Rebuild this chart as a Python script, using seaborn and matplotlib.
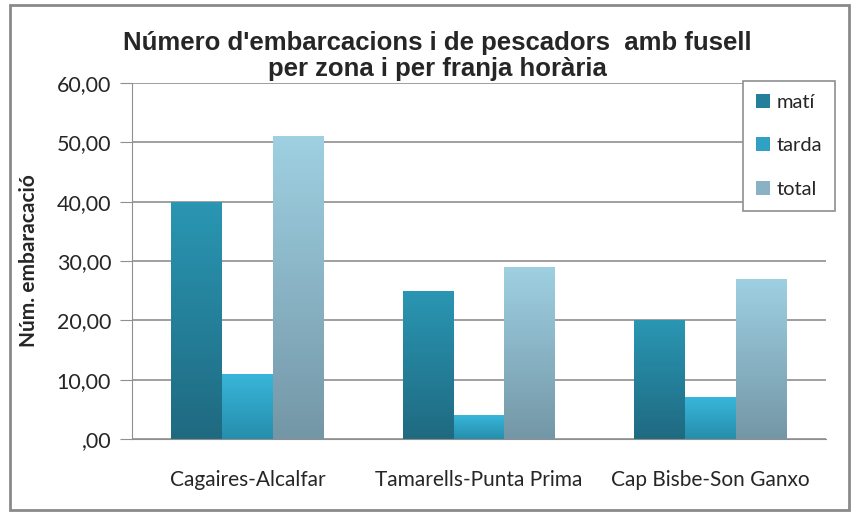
import numpy as np
import pandas as pd
import matplotlib
matplotlib.use('Agg')
import matplotlib.pyplot as plt
import matplotlib.colors as mcolors
from matplotlib.patches import Patch, Rectangle
from matplotlib.ticker import FuncFormatter
import seaborn as sns

zones = ['Cagaires-Alcalfar', 'Tamarells-Punta Prima', 'Cap Bisbe-Son Ganxo']
series = ['matí', 'tarda', 'total']
mati = [40, 25, 20]
tarda = [11, 4, 7]
total = [51, 29, 27]

title = "Número d'embarcacions i de pescadors  amb fusell\nper zona i per franja horària"
ylabel = 'Núm. embaracació'

# bottom / top colours of each bar gradient
grad = {
    'matí': ('#1f6a81', '#2a96b3'),
    'tarda': ('#268eac', '#38b6da'),
    'total': ('#7497a7', '#9ed0e2'),
}
palette = {k: mcolors.to_hex(0.5 * np.array(mcolors.to_rgb(a)) + 0.5 * np.array(mcolors.to_rgb(b)))
           for k, (a, b) in grad.items()}

df = pd.DataFrame({
    'zona': zones * 3,
    'franja': ['matí'] * 3 + ['tarda'] * 3 + ['total'] * 3,
    'valor': mati + tarda + total,
})

sns.set_style('white')
plt.rcParams['font.family'] = ['Lato', 'DejaVu Sans']

fig = plt.figure(figsize=(8.54, 5.12), dpi=100)
ax = fig.add_axes([132 / 854, 1 - 439 / 512, (826 - 132) / 854, (439 - 83) / 512])

sns.barplot(data=df, x='zona', y='valor', hue='franja', hue_order=series, order=zones,
            palette=palette, width=0.66, gap=0, legend=False, ax=ax, saturation=1)

# gradient fill clipped to each bar
bars = list(ax.patches)
for i, p in enumerate(bars):
    s = series[i // 3]
    c0 = np.array(mcolors.to_rgb(grad[s][0]))
    c1 = np.array(mcolors.to_rgb(grad[s][1]))
    t = np.linspace(0, 1, 64)[:, None, None]
    img = c0 + (c1 - c0) * t
    x0, y0 = p.get_x(), p.get_y()
    w, h = p.get_width(), p.get_height()
    im = ax.imshow(img, extent=[x0, x0 + w, y0, y0 + h], origin='lower', aspect='auto', zorder=2.5)
    im.set_clip_path(p)
    p.set_edgecolor('none')
ax.set_xlim(-0.5, 2.5)
ax.set_ylim(0, 60)
ax.set_aspect('auto')

def fmt(v, _):
    s = f'{v:.2f}'.replace('.', ',')
    return s.lstrip('0') if v == 0 else s

ax.set_yticks(np.arange(0, 61, 10))
ax.yaxis.set_major_formatter(FuncFormatter(fmt))
ax.grid(axis='y', color='#8f8f8f', linewidth=1.2)
ax.set_axisbelow(True)
for side in ['top', 'right']:
    ax.spines[side].set_visible(False)
ax.spines['left'].set_color('#8f8f8f')
ax.spines['bottom'].set_color('#8f8f8f')
ax.tick_params(axis='y', direction='out', length=9, color='#8f8f8f', labelsize=15.5, labelcolor='#262626', pad=6, left=True)
ax.tick_params(axis='x', length=0, labelsize=15, labelcolor='#262626', pad=22)
ax.set_xlabel('')
ax.set_ylabel(ylabel, fontsize=15, fontweight='bold', labelpad=13)

fig.text(437 / 854, 1 - 56 / 512, title, ha='center', va='center', fontsize=18.5, fontweight='bold',
         family=['Liberation Sans Narrow', 'Liberation Sans', 'DejaVu Sans'], linespacing=1.15)

handles = [Patch(facecolor=palette[s], edgecolor='none') for s in series]
leg = ax.legend(handles, series, loc='upper left', bbox_to_anchor=(743 / 854, 1 - 81 / 512),
                bbox_transform=fig.transFigure, frameon=True, fancybox=False, framealpha=1,
                edgecolor='#8f8f8f', fontsize=14.5, labelspacing=1.3, handlelength=0.7,
                handleheight=0.7, handletextpad=0.3, borderpad=0.65, borderaxespad=0)
leg.get_frame().set_linewidth(1.2)
leg.set_zorder(10)

fig.add_artist(Rectangle((10 / 854, 2 / 512), 839 / 854, 505 / 512, transform=fig.transFigure,
                         fill=False, edgecolor='#8a8a8a', linewidth=2))

fig.savefig('out.png', dpi=100)
